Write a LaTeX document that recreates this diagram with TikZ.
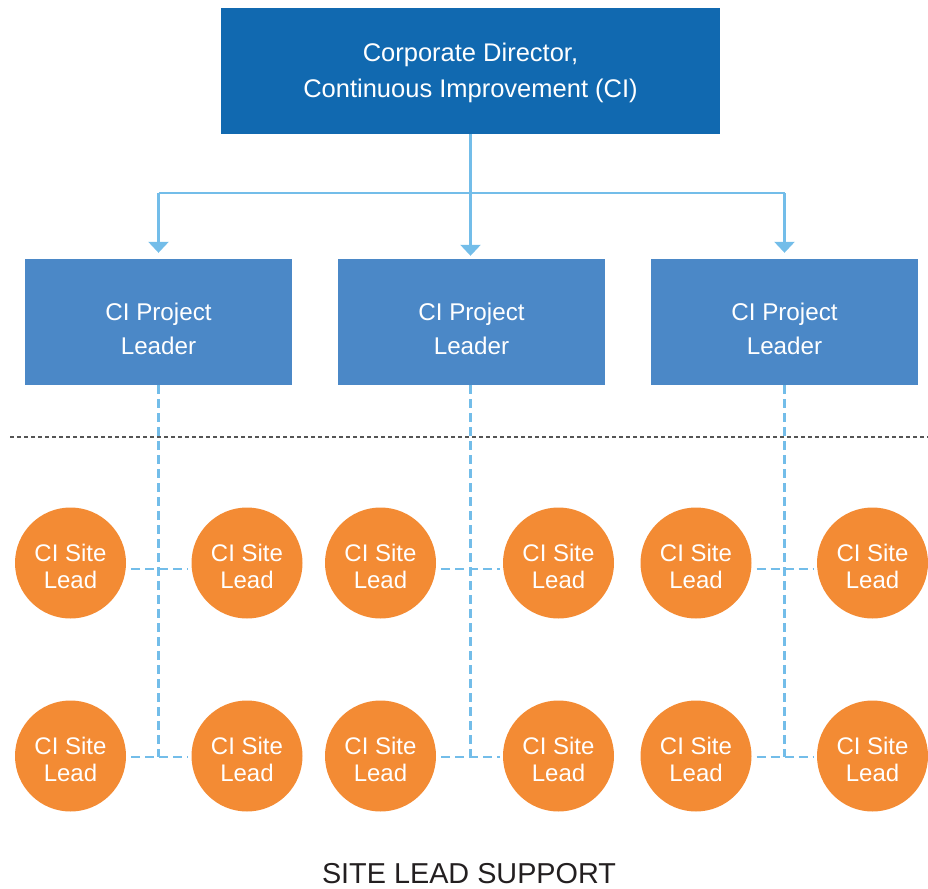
\documentclass[tikz,border=0pt]{standalone}
\usepackage{fontspec}
\setmainfont{Liberation Sans}
\usetikzlibrary{arrows.meta}
\definecolor{topblue}{HTML}{1169B0}
\definecolor{midblue}{HTML}{4B88C7}
\definecolor{siteorange}{HTML}{F38B34}
\definecolor{linkblue}{HTML}{73BDE9}
\definecolor{dotgray}{HTML}{555555}
\definecolor{captxt}{HTML}{231F20}
\begin{document}
\begin{tikzpicture}[x=1pt,y=-1pt,
  topbox/.style={fill=topblue,draw=none,minimum width=499pt,minimum height=126pt,inner sep=0pt,
    text=white,align=center,font=\fontsize{25.5}{36}\selectfont,text height=60pt,text depth=6.6pt},
  leaderbox/.style={fill=midblue,draw=none,minimum width=267pt,minimum height=126pt,inner sep=0pt,
    text=white,align=center,font=\fontsize{24.2}{34}\selectfont,text height=70pt,text depth=6pt},
  sitelead/.style={circle,fill=siteorange,draw=none,minimum size=111pt,inner sep=0pt,
    text=white,align=center,font=\fontsize{24}{27}\selectfont,text height=56pt,text depth=4.6pt},
  arrowline/.style={draw=linkblue,line width=2.5pt,-{Triangle[width=20pt,length=11pt]}},
  solidline/.style={draw=linkblue,line width=2.5pt},
  dashline/.style={draw=linkblue,line width=2.5pt,dash pattern=on 9pt off 5pt},
  dotline/.style={draw=dotgray,line width=2pt,dash pattern=on 4pt off 3pt}
]
\useasboundingbox (0,0) rectangle (928,888);

% top
\node[topbox] (dir) at (470.5,71) {Corporate Director,\\Continuous Improvement (CI)};

% leaders
\node[leaderbox] (l1) at (158.5,322) {CI Project\\Leader};
\node[leaderbox] (l2) at (471.5,322) {CI Project\\Leader};
\node[leaderbox] (l3) at (784.5,322) {CI Project\\Leader};

% branch coordinates
\coordinate (bl) at (158.5,193);
\coordinate (bm) at (470.5,193);
\coordinate (br) at (784.5,193);

% solid arrows
\draw[solidline] (bl) -- (br);
\draw[arrowline,shorten >=3pt] (dir.south -| bm) -- (l2.north -| bm);
\draw[arrowline,shorten >=6pt] (bl) -- (l1.north);
\draw[arrowline,shorten >=6pt] (br) -- (l3.north);

% dotted separator
\coordinate (dl) at (10,437);
\coordinate (dr) at (928,437);
\draw[dotline] (dl) -- (dr);

% site leads
\foreach \n/\x in {1/70.5,2/247,3/380.5,4/558.5,5/696,6/872.5}{
  \node[sitelead] (a\n) at (\x,563) {CI Site\\Lead};
  \node[sitelead] (b\n) at (\x,756) {CI Site\\Lead};
}

% vertical dashed
\coordinate (v1) at (158.5,757);
\coordinate (v2) at (470.5,757);
\coordinate (v3) at (784.5,757);
\draw[dashline] (l1.south) -- (v1);
\draw[dashline] (l2.south -| v2) -- (v2);
\draw[dashline] (l3.south) -- (v3);

% horizontal dashed
\foreach \l/\r in {1/2,3/4,5/6}{
  \draw[dashline,shorten <=5pt,shorten >=3pt] ([yshift=-6pt]a\l.east) -- ([yshift=-6pt]a\r.west);
  \draw[dashline,shorten <=5pt,shorten >=3pt] ([yshift=-1pt]b\l.east) -- ([yshift=-1pt]b\r.west);
}

% caption
\node[text=captxt,font=\fontsize{28.8}{32}\selectfont,anchor=base] (cap) at (469,883) {SITE LEAD SUPPORT};
\end{tikzpicture}
\end{document}
